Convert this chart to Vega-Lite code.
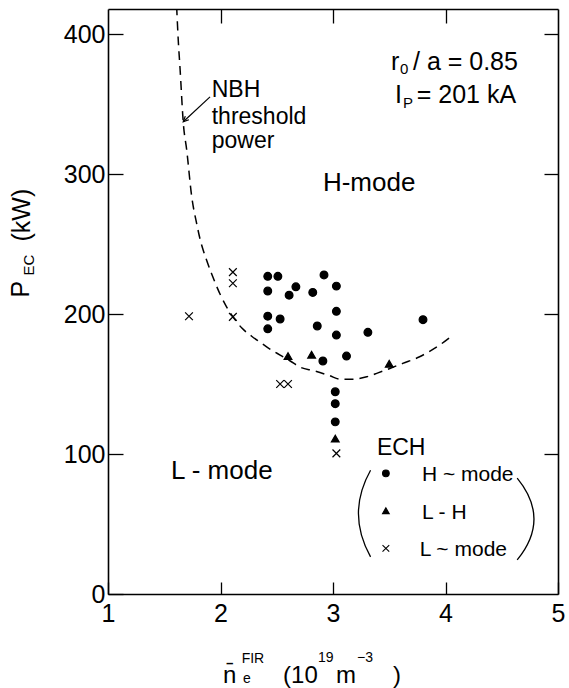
{
  "$schema": "https://vega.github.io/schema/vega-lite/v6.json",
  "width": 450,
  "height": 585,
  "autosize": "none",
  "padding": {"left": 108, "top": 9, "right": 11, "bottom": 94},
  "background": "white",
  "config": {
    "view": {"stroke": null},
    "text": {"font": "Liberation Sans", "color": "black"},
    "axis": {
      "grid": false,
      "title": null,
      "domainColor": "black",
      "domainWidth": 1.6,
      "tickColor": "black",
      "tickWidth": 1.3,
      "labelFont": "Liberation Sans",
      "labelFontSize": 25,
      "labelColor": "black",
      "labelFlush": false,
      "labelOverlap": false
    }
  },
  "datasets": {
    "shots": [
      {"ne": 2.42, "pec": 227, "mode": "H-mode"},
      {"ne": 2.51, "pec": 227, "mode": "H-mode"},
      {"ne": 2.92, "pec": 228, "mode": "H-mode"},
      {"ne": 2.42, "pec": 216.5, "mode": "H-mode"},
      {"ne": 2.61, "pec": 213.5, "mode": "H-mode"},
      {"ne": 2.67, "pec": 219.5, "mode": "H-mode"},
      {"ne": 2.82, "pec": 215.5, "mode": "H-mode"},
      {"ne": 3.03, "pec": 220, "mode": "H-mode"},
      {"ne": 2.42, "pec": 198.5, "mode": "H-mode"},
      {"ne": 2.53, "pec": 196.5, "mode": "H-mode"},
      {"ne": 2.42, "pec": 189.5, "mode": "H-mode"},
      {"ne": 2.86, "pec": 191.5, "mode": "H-mode"},
      {"ne": 3.03, "pec": 202, "mode": "H-mode"},
      {"ne": 3.03, "pec": 185, "mode": "H-mode"},
      {"ne": 3.31, "pec": 187, "mode": "H-mode"},
      {"ne": 3.80, "pec": 196, "mode": "H-mode"},
      {"ne": 2.91, "pec": 166.5, "mode": "H-mode"},
      {"ne": 3.12, "pec": 170, "mode": "H-mode"},
      {"ne": 3.02, "pec": 144.5, "mode": "H-mode"},
      {"ne": 3.02, "pec": 136, "mode": "H-mode"},
      {"ne": 3.02, "pec": 123, "mode": "H-mode"},
      {"ne": 2.60, "pec": 170, "mode": "L-H"},
      {"ne": 2.81, "pec": 171, "mode": "L-H"},
      {"ne": 3.50, "pec": 164.5, "mode": "L-H"},
      {"ne": 3.02, "pec": 111, "mode": "L-H"},
      {"ne": 1.72, "pec": 198.5, "mode": "L-mode"},
      {"ne": 2.11, "pec": 230, "mode": "L-mode"},
      {"ne": 2.11, "pec": 222, "mode": "L-mode"},
      {"ne": 2.11, "pec": 198, "mode": "L-mode"},
      {"ne": 2.53, "pec": 150, "mode": "L-mode"},
      {"ne": 2.60, "pec": 150, "mode": "L-mode"},
      {"ne": 3.03, "pec": 100.5, "mode": "L-mode"}
    ],
    "threshold": [
      {"ne": 1.61, "pec": 420},
      {"ne": 1.625, "pec": 395},
      {"ne": 1.64, "pec": 376},
      {"ne": 1.67, "pec": 336},
      {"ne": 1.70, "pec": 317},
      {"ne": 1.744, "pec": 284},
      {"ne": 1.79, "pec": 264},
      {"ne": 1.82, "pec": 253},
      {"ne": 1.87, "pec": 240},
      {"ne": 1.92, "pec": 229},
      {"ne": 2.00, "pec": 213.6},
      {"ne": 2.055, "pec": 205},
      {"ne": 2.12, "pec": 197},
      {"ne": 2.19, "pec": 190},
      {"ne": 2.28, "pec": 184},
      {"ne": 2.35, "pec": 180},
      {"ne": 2.41, "pec": 176.6},
      {"ne": 2.53, "pec": 170.7},
      {"ne": 2.62, "pec": 166.5},
      {"ne": 2.71, "pec": 162},
      {"ne": 2.83, "pec": 159.5},
      {"ne": 2.97, "pec": 156},
      {"ne": 3.06, "pec": 153.5},
      {"ne": 3.18, "pec": 153.5},
      {"ne": 3.30, "pec": 155.2},
      {"ne": 3.40, "pec": 158},
      {"ne": 3.50, "pec": 161},
      {"ne": 3.62, "pec": 164.8},
      {"ne": 3.77, "pec": 169.5},
      {"ne": 3.85, "pec": 173},
      {"ne": 3.95, "pec": 178},
      {"ne": 4.05, "pec": 184}
    ],
    "key": [
      {"ne": 3.47, "pec": 86.2, "mode": "H-mode"},
      {"ne": 3.47, "pec": 59.5, "mode": "L-H"},
      {"ne": 3.47, "pec": 32.6, "mode": "L-mode"}
    ],
    "keyText": [
      {"ne": 3.79, "pec": 85, "t": "H ~ mode"},
      {"ne": 3.79, "pec": 57.6, "t": "L - H"},
      {"ne": 3.77, "pec": 31.4, "t": "L ~ mode"}
    ],
    "keyTitle": [{"ne": 3.39, "pec": 104, "t": "ECH"}],
    "brackets": [
      {"ne": 3.28, "pec": 57.5, "side": "left"},
      {"ne": 4.71, "pec": 53.6, "side": "right"}
    ],
    "regions": [
      {"ne": 2.91, "pec": 293.6, "t": "H-mode"},
      {"ne": 1.56, "pec": 87.8, "t": "L - mode"}
    ],
    "nbh": [
      {"ne": 1.922, "pec": 360, "t": "NBH"},
      {"ne": 1.922, "pec": 341, "t": "threshold"},
      {"ne": 1.922, "pec": 324, "t": "power"}
    ],
    "pointer": [{"ne": 1.907, "pec": 355.2, "ne2": 1.669, "pec2": 337.4}],
    "params": [
      {"ne": 3.516, "pec": 380, "t": "r"},
      {"ne": 3.711, "pec": 380, "t": "/ a = 0.85"},
      {"ne": 3.551, "pec": 356.4, "t": "I"},
      {"ne": 3.744, "pec": 356.4, "t": "= 201 kA"}
    ],
    "paramSubs": [
      {"ne": 3.596, "pec": 375, "t": "0"},
      {"ne": 3.622, "pec": 350.7, "t": "P"}
    ],
    "xTitle": [
      {"ne": 2.022, "pec": -58.6, "t": "n̄"},
      {"ne": 2.556, "pec": -58.6, "t": "(10"},
      {"ne": 3.027, "pec": -58.6, "t": "m"},
      {"ne": 3.533, "pec": -58.6, "t": ")"}
    ],
    "xTitleSmall": [
      {"ne": 2.188, "pec": -46.2, "t": "FIR"},
      {"ne": 2.2, "pec": -60.5, "t": "e"},
      {"ne": 2.867, "pec": -45.4, "t": "19"},
      {"ne": 3.213, "pec": -45.4, "t": "−3"}
    ],
    "yTitle": [
      {"ne": 0.227, "pec": 217.9, "t": "P"},
      {"ne": 0.235, "pec": 270.7, "t": "(kW)"}
    ],
    "yTitleSmall": [{"ne": 0.298, "pec": 235, "t": "EC"}]
  },
  "layer": [
    {
      "data": {"name": "threshold"},
      "mark": {"type": "line", "color": "black", "strokeWidth": 1.5, "strokeDash": [9, 6], "interpolate": "monotone", "clip": true},
      "encoding": {
        "x": {"field": "ne", "type": "quantitative", "scale": {"domain": [1, 5], "nice": false, "zero": false},
              "axis": {"orient": "bottom", "values": [1, 2, 3, 4, 5], "format": "d", "tickSize": -12, "labelPadding": 19}},
        "y": {"field": "pec", "type": "quantitative", "scale": {"domain": [0, 418], "nice": false, "zero": false},
              "axis": {"orient": "left", "values": [0, 100, 200, 300, 400], "format": "d", "tickSize": -15, "labelPadding": 18}}
      }
    },
    {
      "data": {"name": "shots"},
      "mark": {"type": "point", "filled": true, "color": "black", "stroke": "black", "strokeWidth": 1.2, "opacity": 1, "size": 60},
      "encoding": {
        "x": {"field": "ne", "type": "quantitative", "scale": {"domain": [1, 5], "nice": false, "zero": false},
              "axis": {"orient": "top", "values": [2, 3, 4], "labels": false, "tickSize": -14}},
        "y": {"field": "pec", "type": "quantitative", "scale": {"domain": [0, 418], "nice": false, "zero": false},
              "axis": {"orient": "right", "values": [100, 200, 300, 400], "labels": false, "tickSize": -14}},
        "shape": {"field": "mode", "type": "nominal", "legend": null,
                  "scale": {"domain": ["H-mode", "L-H", "L-mode"], "range": ["circle", "triangle-up", "M-1,-1L1,1M1,-1L-1,1"]}}
      }
    },
    {
      "data": {"name": "key"},
      "mark": {"type": "point", "filled": true, "color": "black", "stroke": "black", "strokeWidth": 1.1, "opacity": 1, "size": 45},
      "encoding": {
        "x": {"field": "ne", "type": "quantitative", "scale": {"domain": [1, 5], "nice": false, "zero": false}, "axis": null},
        "y": {"field": "pec", "type": "quantitative", "scale": {"domain": [0, 418], "nice": false, "zero": false}, "axis": null},
        "shape": {"field": "mode", "type": "nominal", "legend": null}
      }
    },
    {
      "data": {"name": "brackets"},
      "transform": [{"filter": "datum.side === 'left'"}],
      "mark": {"type": "point", "shape": "M0.14,-1Q-0.42,0 0.14,1", "filled": false, "stroke": "black", "strokeWidth": 1.3, "opacity": 1, "size": 7500},
      "encoding": {
        "x": {"field": "ne", "type": "quantitative", "scale": {"domain": [1, 5], "nice": false, "zero": false}, "axis": null},
        "y": {"field": "pec", "type": "quantitative", "scale": {"domain": [0, 418], "nice": false, "zero": false}, "axis": null}
      }
    },
    {
      "data": {"name": "brackets"},
      "transform": [{"filter": "datum.side === 'right'"}],
      "mark": {"type": "point", "shape": "M-0.2,-1Q0.62,0 -0.2,1", "filled": false, "stroke": "black", "strokeWidth": 1.3, "opacity": 1, "size": 6700},
      "encoding": {
        "x": {"field": "ne", "type": "quantitative", "scale": {"domain": [1, 5], "nice": false, "zero": false}, "axis": null},
        "y": {"field": "pec", "type": "quantitative", "scale": {"domain": [0, 418], "nice": false, "zero": false}, "axis": null}
      }
    },
    {
      "data": {"name": "pointer"},
      "mark": {"type": "rule", "color": "black", "strokeWidth": 1.2},
      "encoding": {
        "x": {"field": "ne", "type": "quantitative", "scale": {"domain": [1, 5], "nice": false, "zero": false}, "axis": null},
        "y": {"field": "pec", "type": "quantitative", "scale": {"domain": [0, 418], "nice": false, "zero": false}, "axis": null},
        "x2": {"field": "ne2"},
        "y2": {"field": "pec2"}
      }
    },
    {
      "data": {"name": "pointer"},
      "mark": {"type": "point", "shape": "M0.94,-0.34L0,0L0.34,-0.94", "filled": false, "stroke": "black", "strokeWidth": 1.2, "opacity": 1, "size": 144},
      "encoding": {
        "x": {"field": "ne2", "type": "quantitative", "scale": {"domain": [1, 5], "nice": false, "zero": false}, "axis": null},
        "y": {"field": "pec2", "type": "quantitative", "scale": {"domain": [0, 418], "nice": false, "zero": false}, "axis": null}
      }
    },
    {
      "data": {"name": "regions"},
      "mark": {"type": "text", "align": "left", "baseline": "middle", "fontSize": 26},
      "encoding": {
        "x": {"field": "ne", "type": "quantitative", "scale": {"domain": [1, 5], "nice": false, "zero": false}, "axis": null},
        "y": {"field": "pec", "type": "quantitative", "scale": {"domain": [0, 418], "nice": false, "zero": false}, "axis": null},
        "text": {"field": "t"}
      }
    },
    {
      "data": {"name": "nbh"},
      "mark": {"type": "text", "align": "left", "baseline": "middle", "fontSize": 23},
      "encoding": {
        "x": {"field": "ne", "type": "quantitative", "scale": {"domain": [1, 5], "nice": false, "zero": false}, "axis": null},
        "y": {"field": "pec", "type": "quantitative", "scale": {"domain": [0, 418], "nice": false, "zero": false}, "axis": null},
        "text": {"field": "t"}
      }
    },
    {
      "data": {"name": "params"},
      "mark": {"type": "text", "align": "left", "baseline": "middle", "fontSize": 25},
      "encoding": {
        "x": {"field": "ne", "type": "quantitative", "scale": {"domain": [1, 5], "nice": false, "zero": false}, "axis": null},
        "y": {"field": "pec", "type": "quantitative", "scale": {"domain": [0, 418], "nice": false, "zero": false}, "axis": null},
        "text": {"field": "t"}
      }
    },
    {
      "data": {"name": "paramSubs"},
      "mark": {"type": "text", "align": "left", "baseline": "middle", "fontSize": 15},
      "encoding": {
        "x": {"field": "ne", "type": "quantitative", "scale": {"domain": [1, 5], "nice": false, "zero": false}, "axis": null},
        "y": {"field": "pec", "type": "quantitative", "scale": {"domain": [0, 418], "nice": false, "zero": false}, "axis": null},
        "text": {"field": "t"}
      }
    },
    {
      "data": {"name": "keyTitle"},
      "mark": {"type": "text", "align": "left", "baseline": "middle", "fontSize": 23},
      "encoding": {
        "x": {"field": "ne", "type": "quantitative", "scale": {"domain": [1, 5], "nice": false, "zero": false}, "axis": null},
        "y": {"field": "pec", "type": "quantitative", "scale": {"domain": [0, 418], "nice": false, "zero": false}, "axis": null},
        "text": {"field": "t"}
      }
    },
    {
      "data": {"name": "keyText"},
      "mark": {"type": "text", "align": "left", "baseline": "middle", "fontSize": 21},
      "encoding": {
        "x": {"field": "ne", "type": "quantitative", "scale": {"domain": [1, 5], "nice": false, "zero": false}, "axis": null},
        "y": {"field": "pec", "type": "quantitative", "scale": {"domain": [0, 418], "nice": false, "zero": false}, "axis": null},
        "text": {"field": "t"}
      }
    },
    {
      "data": {"name": "xTitle"},
      "mark": {"type": "text", "align": "left", "baseline": "middle", "fontSize": 24},
      "encoding": {
        "x": {"field": "ne", "type": "quantitative", "scale": {"domain": [1, 5], "nice": false, "zero": false}, "axis": null},
        "y": {"field": "pec", "type": "quantitative", "scale": {"domain": [0, 418], "nice": false, "zero": false}, "axis": null},
        "text": {"field": "t"}
      }
    },
    {
      "data": {"name": "xTitleSmall"},
      "mark": {"type": "text", "align": "left", "baseline": "middle", "fontSize": 14},
      "encoding": {
        "x": {"field": "ne", "type": "quantitative", "scale": {"domain": [1, 5], "nice": false, "zero": false}, "axis": null},
        "y": {"field": "pec", "type": "quantitative", "scale": {"domain": [0, 418], "nice": false, "zero": false}, "axis": null},
        "text": {"field": "t"}
      }
    },
    {
      "data": {"name": "yTitle"},
      "mark": {"type": "text", "align": "center", "baseline": "middle", "angle": 270, "fontSize": 25},
      "encoding": {
        "x": {"field": "ne", "type": "quantitative", "scale": {"domain": [1, 5], "nice": false, "zero": false}, "axis": null},
        "y": {"field": "pec", "type": "quantitative", "scale": {"domain": [0, 418], "nice": false, "zero": false}, "axis": null},
        "text": {"field": "t"}
      }
    },
    {
      "data": {"name": "yTitleSmall"},
      "mark": {"type": "text", "align": "center", "baseline": "middle", "angle": 270, "fontSize": 15},
      "encoding": {
        "x": {"field": "ne", "type": "quantitative", "scale": {"domain": [1, 5], "nice": false, "zero": false}, "axis": null},
        "y": {"field": "pec", "type": "quantitative", "scale": {"domain": [0, 418], "nice": false, "zero": false}, "axis": null},
        "text": {"field": "t"}
      }
    }
  ],
  "resolve": {"axis": {"x": "independent", "y": "independent"}}
}
